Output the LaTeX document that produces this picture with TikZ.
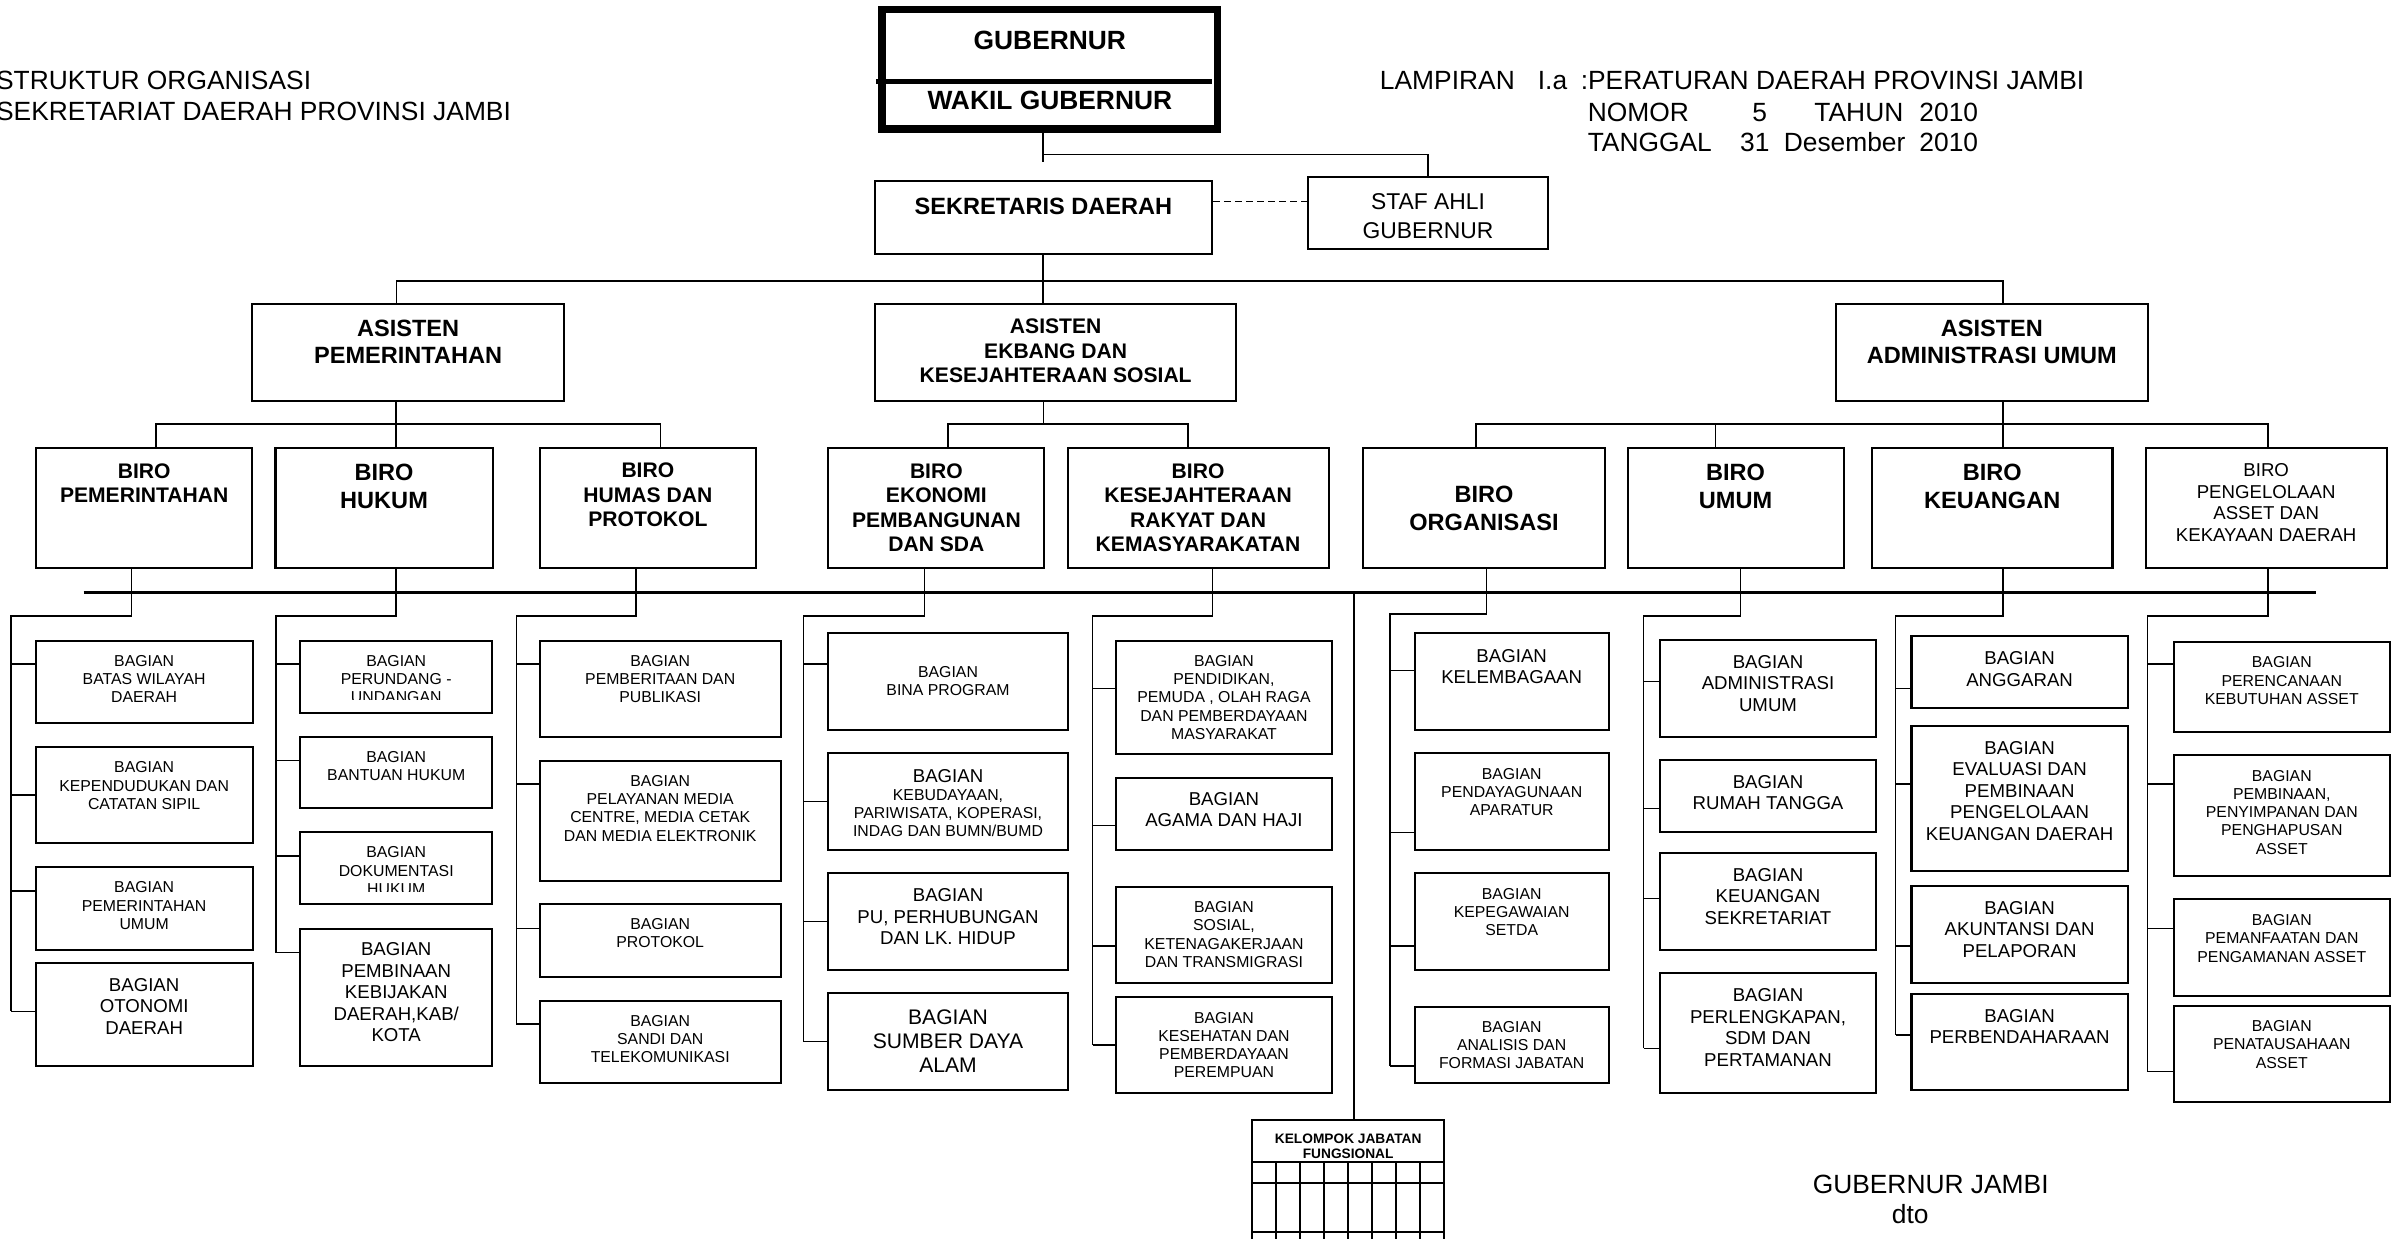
\documentclass[tikz,border=0pt]{standalone}
\usepackage{fontspec}
\setmainfont{Liberation Sans}
\usetikzlibrary{fit,calc}

\begin{document}
\begin{tikzpicture}[x=0.015325cm,y=-0.015325cm,every text node part/.style={align=center}]
		\tikzstyle{box}=[draw,line width=0.6pt,inner sep=0pt]
		\tikzstyle{thick box}=[draw,line width=2.1pt,inner sep=0pt]
		\tikzstyle{txt}=[inner sep=0pt]
		\tikzstyle{hd}=[inner sep=0pt,font=\fontsize{7.5}{8.7}\selectfont]
		\tikzstyle{gb}=[inner sep=0pt,font=\bfseries\fontsize{7.5}{9}\selectfont]
		\tikzstyle{asb}=[font=\bfseries\fontsize{6.7}{7.7}\selectfont]
		\tikzstyle{asbs}=[font=\bfseries\fontsize{6}{7}\selectfont]
		\tikzstyle{birb}=[font=\bfseries\fontsize{6}{7}\selectfont]
		\tikzstyle{birbb}=[font=\bfseries\fontsize{6.7}{7.8}\selectfont]
		\tikzstyle{birr}=[font=\fontsize{5.3}{6.1}\selectfont]
		\tikzstyle{bgs}=[font=\fontsize{4.5}{5.2}\selectfont]
		\tikzstyle{bgm}=[font=\fontsize{5.3}{6.1}\selectfont]
		\tikzstyle{bgl}=[font=\fontsize{6}{6.9}\selectfont]
		\tikzstyle{kjb}=[font=\bfseries\fontsize{3.9}{4.3}\selectfont]

		\useasboundingbox (0,0) rectangle (1568,808.5);

		% headings
		\node[hd,anchor=west,every text node part/.style={align=left}] (judul) at (-3,62.5)
			{STRUKTUR ORGANISASI\\SEKRETARIAT DAERAH PROVINSI JAMBI};
		\foreach \name/\x/\y/\lbl in {lpA/900/58.4/LAMPIRAN, lpB/1003/58.4/I.a,
			lpC/1031/58.4/{:PERATURAN DAERAH PROVINSI JAMBI},
			noA/1035.6/79.1/NOMOR, noB/1143/79.1/5, noC/1183.5/79.1/TAHUN, noD/1252/79.1/2010,
			tgA/1035.6/98.7/TANGGAL, tgB/1135/98.7/31, tgC/1163.5/98.7/Desember, tgD/1252/98.7/2010}
			\node[hd,anchor=base west] (\name) at (\x,\y) {\lbl};

		% gubernur, sekda, staf ahli
		\node[thick box,fit={(575.5,6.3) (794.6,84.3)}] (gub) {};
		\draw[line width=1.4pt] (571.6,53.1) -- (790.7,53.1);
		\node[gb] (gub-t) at (gub.center |- 0,26.1) {GUBERNUR};
		\node[gb] (wakil-t) at (gub.center |- 0,65.6) {WAKIL GUBERNUR};
		\node[box,fit={(571,118) (790.7,166)}] (sekda) {};
		\node[txt,asb] (sekda-t) at (sekda.center |- 0,135) {SEKRETARIS DAERAH};
		\node[box,fit={(853.3,115.7) (1010.3,162.7)}] (staf) {};
		\node[txt,font=\fontsize{6.5}{8.1}\selectfont] (staf-t) at (staf.center |- 0,140.9) {STAF AHLI\\GUBERNUR};

		\draw (gub.south -| 680.6,0) -- (680.6,105.5);
		\draw (680.6,101) -| (staf.north);
		\draw[dash pattern=on 1.9pt off 1.25pt] (sekda.east |- 0,131.6) -- (staf.west |- 0,131.6);

		% asisten
		\node[box,fit={(164.6,198.4) (368,261.5)}] (aPem) {};
		\node[txt,asb] (aPem-t) at (aPem.center |- 0,222.9) {ASISTEN\\PEMERINTAHAN};
		\node[box,fit={(571,198.4) (806.7,261.5)}] (aEko) {};
		\node[txt,asbs] (aEko-t) at (aEko.center |- 0,229) {ASISTEN\\EKBANG DAN\\KESEJAHTERAAN SOSIAL};
		\node[box,fit={(1198,198.4) (1401.4,261.5)}] (aAdm) {};
		\node[txt,asb] (aAdm-t) at (aAdm.center |- 0,223) {ASISTEN\\ADMINISTRASI UMUM};

		\draw (sekda.south -| 680.6,0) -- (aEko.north -| 680.6,0);
		\draw (aPem.north -| 258.6,0) -- (258.6,183.4) -- (1307,183.4) -- (aAdm.north -| 1307,0);

		% biro
		\foreach \name/\xa/\xb/\yt/\sty/\lbl in {
			bPem/23.6/164.6/315.3/birb/{BIRO\\PEMERINTAHAN},
			bHuk/179.8/321.4/317.3/birbb/{BIRO\\HUKUM},
			bHum/352.2/493.3/323/birb/{BIRO\\HUMAS DAN\\PROTOKOL},
			bEko/540.5/681.5/331.3/birb/{BIRO\\EKONOMI\\PEMBANGUNAN\\DAN SDA},
			bKes/696.6/866.9/331.3/birb/{BIRO\\KESEJAHTERAAN\\RAKYAT DAN\\KEMASYARAKATAN},
			bOrg/889.6/1047/331.8/birbb/{BIRO\\ORGANISASI},
			bUmm/1062/1203/317.3/birbb/{BIRO\\UMUM},
			bKeu/1221.5/1378.4/317.3/birbb/{BIRO\\KEUANGAN},
			bAst/1400/1557.4/327.9/birr/{BIRO\\PENGELOLAAN\\ASSET DAN\\KEKAYAAN DAERAH}}{
			\node[box,fit={(\xa,292.5) (\xb,370.9)}] (\name) {};
			\node[txt,\sty] (\name-t) at (\name.center |- 0,\yt) {\lbl};
		}

		\draw (aPem.south -| 258.5,0) -- (bHuk.north -| 258.5,0);
		\draw (bPem.north -| 101.7,0) -- (101.7,276.7) -- (431,276.7) -- (bHum.north -| 431,0);
		\draw (aEko.south -| 681,0) -- (681,276.7);
		\draw (bEko.north -| 618.6,0) -- (618.6,276.7) -- (775.3,276.7) -- (bKes.north -| 775.3,0);
		\draw (aAdm.south -| 1307,0) -- (bKeu.north -| 1307,0);
		\draw (bOrg.north -| 963,0) -- (963,276.7) -- (1480,276.7) -- (bAst.north -| 1480,0);
		\draw (bUmm.north -| 1119.5,0) -- (1119.5,276.7);

		% bus line
		\coordinate (busL) at (54.5,386.5);
		\coordinate (busR) at (1511.5,386.5);
		\draw[line width=0.9pt] (busL) -- (busR);

		% Biro Pemerintahan
		\draw (bPem.south -| 85.9,0) -- (85.9,402) -- (7.3,402) -- (7.3,660);
		\foreach \name/\ya/\yb/\yt/\yk/\sty/\lbl in {
			pmA/418/472/443/433.3/bgs/{BAGIAN\\BATAS WILAYAH\\DAERAH},
			pmB/487.2/550.3/512.6/518.8/bgs/{BAGIAN\\KEPENDUDUKAN DAN\\CATATAN SIPIL},
			pmC/565.5/619.9/591/581.4/bgs/{BAGIAN\\PEMERINTAHAN\\UMUM},
			pmD/628.2/695.6/656.7/660/bgm/{BAGIAN\\OTONOMI\\DAERAH}}{
			\node[box,fit={(23.3,\ya) (164.8,\yb)}] (\name) {};
			\node[txt,\sty] (\name-t) at (\name.center |- 0,\yt) {\lbl};
			\draw (7.3,\yk) -- (\name.west |- 0,\yk);
		}

		% Biro Hukum (text cut off at the frame, as printed)
		\draw (bHuk.south -| 258.4,0) -- (258.4,402) -- (180.1,402) -- (180.1,621.6);
		\foreach \name/\ya/\yb/\yc/\yt/\yk/\sty/\lbl in {
			hkA/418/465/456.6/443/433.3/bgs/{BAGIAN\\PERUNDANG -\\UNDANGAN},
			hkB/480.7/527.5/527.5/499.7/496.4/bgs/{BAGIAN\\BANTUAN HUKUM},
			hkC/543.1/589.9/581.7/568.1/558.6/bgs/{BAGIAN\\DOKUMENTASI\\HUKUM},
			hkD/606.2/695.6/695.6/647.6/621.6/bgm/{BAGIAN\\PEMBINAAN\\KEBIJAKAN\\DAERAH,KAB/\\KOTA}}{
			\node[box,fit={(195.8,\ya) (321.3,\yb)}] (\name) {};
			\begin{scope}
				\clip (195.8,\ya) rectangle (321.3,\yc);
				\node[txt,\sty] (\name-t) at (\name.center |- 0,\yt) {\lbl};
			\end{scope}
			\draw (180.1,\yk) -- (\name.west |- 0,\yk);
		}

		% Biro Humas dan Protokol
		\draw (bHum.south -| 415.1,0) -- (415.1,402) -- (336.9,402) -- (336.9,668.2);
		\foreach \name/\ya/\yb/\yt/\yk/\sty/\lbl in {
			hmA/418/480.7/443/433.3/bgs/{BAGIAN\\PEMBERITAAN DAN\\PUBLIKASI},
			hmB/496.4/574.7/527.5/511.6/bgs/{BAGIAN\\PELAYANAN MEDIA\\CENTRE, MEDIA CETAK\\DAN MEDIA ELEKTRONIK},
			hmC/590.1/637.3/609/605.7/bgs/{BAGIAN\\PROTOKOL},
			hmD/653/706.5/678/668.2/bgs/{BAGIAN\\SANDI DAN\\TELEKOMUNIKASI}}{
			\node[box,fit={(352.2,\ya) (509.4,\yb)}] (\name) {};
			\node[txt,\sty] (\name-t) at (\name.center |- 0,\yt) {\lbl};
			\draw (336.9,\yk) -- (\name.west |- 0,\yk);
		}

		% Biro Ekonomi Pembangunan dan SDA
		\draw (bEko.south -| 603.1,0) -- (603.1,402) -- (524.4,402) -- (524.4,679.7);
		\foreach \name/\ya/\yb/\yt/\yk/\sty/\lbl in {
			ekA/413.3/476.3/444.5/433.3/bgs/{BAGIAN\\BINA PROGRAM},
			ekB/491.6/554.6/524/523.1/bgs/{{\fontsize{5.3}{6}\selectfont BAGIAN}\\KEBUDAYAAN,\\PARIWISATA, KOPERASI,\\INDAG DAN BUMN/BUMD},
			ekC/569.9/633/598.2/601.4/bgm/{BAGIAN\\PU, PERHUBUNGAN\\DAN LK. HIDUP},
			ekD/648.2/711.3/679.4/679.7/bgl/{BAGIAN\\SUMBER DAYA\\ALAM}}{
			\node[box,fit={(540.2,\ya) (697,\yb)}] (\name) {};
			\node[txt,\sty] (\name-t) at (\name.center |- 0,\yt) {\lbl};
			\draw (524.4,\yk) -- (\name.west |- 0,\yk);
		}

		% Biro Kesejahteraan Rakyat dan Kemasyarakatan
		\draw (bKes.south -| 791.2,0) -- (791.2,402) -- (713,402) -- (713,681.9);
		\foreach \name/\ya/\yb/\yt/\yk/\sty/\lbl in {
			ksA/418/492/455/449.2/bgs/{BAGIAN\\PENDIDIKAN,\\PEMUDA , OLAH RAGA\\DAN PEMBERDAYAAN\\MASYARAKAT},
			ksB/507.5/554.6/528.4/538.8/bgm/{BAGIAN\\AGAMA DAN HAJI},
			ksC/578.6/641.7/609.8/617.3/bgs/{BAGIAN\\SOSIAL,\\KETENAGAKERJAAN\\DAN TRANSMIGRASI},
			ksD/650.8/713.4/681.9/681.9/bgs/{BAGIAN\\KESEHATAN DAN\\PEMBERDAYAAN\\PEREMPUAN}}{
			\node[box,fit={(728,\ya) (869.3,\yb)}] (\name) {};
			\node[txt,\sty] (\name-t) at (\name.center |- 0,\yt) {\lbl};
			\draw (713,\yk) -- (\name.west |- 0,\yk);
		}

		% Biro Organisasi
		\draw (bOrg.south -| 970,0) -- (970,400.6) -- (906.9,400.6) -- (906.9,695.6);
		\foreach \name/\ya/\yb/\yt/\yk/\sty/\lbl in {
			orA/413.3/476.3/434.9/437.6/bgm/{BAGIAN\\KELEMBAGAAN},
			orB/491.6/554.6/516.9/543.1/bgs/{BAGIAN\\PENDAYAGUNAAN\\APARATUR},
			orC/569.9/633/595.1/617.3/bgs/{BAGIAN\\KEPEGAWAIAN\\SETDA},
			orD/656.9/706.5/681.9/695.6/bgs/{BAGIAN\\ANALISIS DAN\\FORMASI JABATAN}}{
			\node[box,fit={(923.2,\ya) (1049.6,\yb)}] (\name) {};
			\node[txt,\sty] (\name-t) at (\name.center |- 0,\yt) {\lbl};
			\draw (906.9,\yk) -- (\name.west |- 0,\yk);
		}

		% Biro Umum
		\draw (bUmm.south -| 1135.5,0) -- (1135.5,402) -- (1072.4,402) -- (1072.4,684);
		\foreach \name/\ya/\yb/\yt/\yk/\sty/\lbl in {
			umA/417.6/480.7/445.9/444.8/bgm/{BAGIAN\\ADMINISTRASI\\UMUM},
			umB/495.9/543.1/517.1/527.5/bgm/{BAGIAN\\RUMAH TANGGA},
			umC/556.8/619.9/584.8/586.2/bgm/{BAGIAN\\KEUANGAN\\SEKRETARIAT},
			umD/635.1/713.4/670.5/684/bgm/{BAGIAN\\PERLENGKAPAN,\\SDM DAN\\PERTAMANAN}}{
			\node[box,fit={(1083.1,\ya) (1224.2,\yb)}] (\name) {};
			\node[txt,\sty] (\name-t) at (\name.center |- 0,\yt) {\lbl};
			\draw (1072.4,\yk) -- (\name.west |- 0,\yk);
		}

		% Biro Keuangan
		\draw (bKeu.south -| 1307,0) -- (1307,402) -- (1237,402) -- (1237,675.4);
		\foreach \name/\ya/\yb/\yt/\yk/\sty/\lbl in {
			kuA/415/462.2/436.5/449.2/bgm/{BAGIAN\\ANGGARAN},
			kuB/473.7/568.4/516.1/511.6/bgm/{BAGIAN\\EVALUASI DAN\\PEMBINAAN\\PENGELOLAAN\\KEUANGAN DAERAH},
			kuC/578.1/641.2/606.4/617.3/bgm/{BAGIAN\\AKUNTANSI DAN\\PELAPORAN},
			kuD/648.6/711.3/669.9/675.4/bgm/{BAGIAN\\PERBENDAHARAAN}}{
			\node[box,fit={(1247.3,\ya) (1388.3,\yb)}] (\name) {};
			\node[txt,\sty] (\name-t) at (\name.center |- 0,\yt) {\lbl};
			\draw (1237,\yk) -- (\name.west |- 0,\yk);
		}

		% Biro Pengelolaan Asset
		\draw (bAst.south -| 1480,0) -- (1480,402) -- (1401.2,402) -- (1401.2,699.3);
		\foreach \name/\ya/\yb/\yt/\yk/\sty/\lbl in {
			asA/418.7/477.4/444.2/433.3/bgs/{BAGIAN\\PERENCANAAN\\KEBUTUHAN ASSET},
			asB/492.7/571.4/530/511.6/bgs/{BAGIAN\\PEMBINAAN,\\PENYIMPANAN DAN\\PENGHAPUSAN\\ASSET},
			asC/586.8/649.7/612.3/605.7/bgs/{BAGIAN\\PEMANFAATAN DAN\\PENGAMANAN ASSET},
			asD/656.2/719.3/681.5/699.3/bgs/{BAGIAN\\PENATAUSAHAAN\\ASSET}}{
			\node[box,fit={(1418.4,\ya) (1559.4,\yb)}] (\name) {};
			\node[txt,\sty] (\name-t) at (\name.center |- 0,\yt) {\lbl};
			\draw (1401.2,\yk) -- (\name.west |- 0,\yk);
		}

		% kelompok jabatan fungsional
		\node[box,fit={(817,730.8) (942.4,758.3)}] (kjf) {};
		\node[txt,kjb] (kjf-t) at (kjf.center |- 0,747.7) {KELOMPOK JABATAN\\FUNGSIONAL};
		\draw (883.5,386.5) -- (kjf.north -| 883.5,0);
		\foreach \i in {0,...,8}
			\draw[line width=0.6pt] ({817+15.675*\i},758.3) -- ({817+15.675*\i},808.5);
		\draw[line width=0.6pt] (817,772.2) -- (942.4,772.2);
		\draw[line width=0.6pt] (817,803.7) -- (942.4,803.7);

		% tanda tangan
		\node[hd,anchor=base] (ttd) at (1259.8,778.6) {GUBERNUR JAMBI};
		\node[hd,anchor=base] (dto) at (1246.5,798.3) {dto};
	\end{tikzpicture}
\end{document}
